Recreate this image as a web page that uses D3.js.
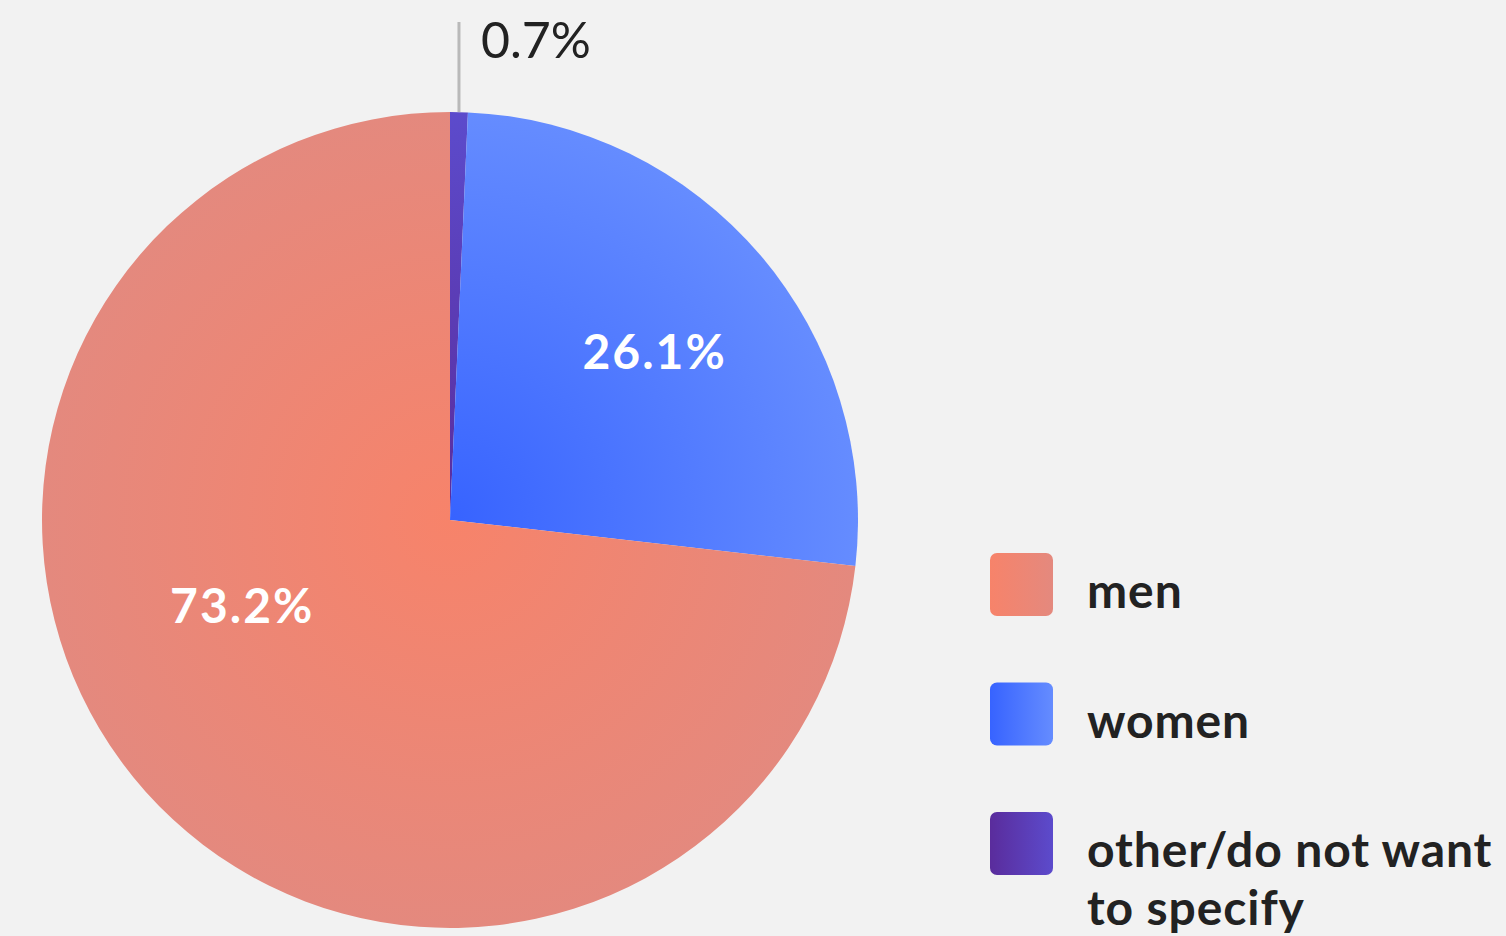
<!DOCTYPE html>
<html>
<head>
<meta charset="utf-8">
<script src="https://cdn.jsdelivr.net/npm/d3@7"></script>
<style>
  html, body { margin: 0; padding: 0; background: #f2f2f2; }
  svg { display: block; }
  text { font-family: Lato, "Open Sans", sans-serif; }
</style>
</head>
<body>
<svg id="chart" width="1506" height="936"></svg>
<script>
// Respondent gender split, drawn clockwise from 12 o'clock
const categories = ["other/do not want to specify", "women", "men"];
const shares = [0.7, 26.1, 73.2];
const valueLabels = ["0.7%", "26.1%", "73.2%"];
const legendOrder = ["men", "women", "other/do not want to specify"];
const legendLines = [["men"], ["women"], ["other/do not want", "to specify"]];

// Colour ramps per slice: [inner/left, outer/right]
const colours = {
  "men": ["#f7836a", "#e4897e"],
  "women": ["#3763ff", "#658cff"],
  "other/do not want to specify": ["#5a2c9c", "#5c4bcc"]
};

const svg = d3.select("#chart");
const cx = 450, cy = 520, R = 408;

const defs = svg.append("defs");
categories.forEach((c, i) => {
  // radial ramp in the pie group's own coordinates (centre at 0,0)
  const rg = defs.append("radialGradient")
    .attr("id", "rg" + i)
    .attr("gradientUnits", "userSpaceOnUse")
    .attr("cx", 0).attr("cy", 0).attr("r", R);
  rg.append("stop").attr("offset", "0%").attr("stop-color", colours[c][0]);
  rg.append("stop").attr("offset", "100%").attr("stop-color", colours[c][1]);
  const lg = defs.append("linearGradient")
    .attr("id", "lg" + i)
    .attr("x1", "0%").attr("x2", "100%").attr("y1", "0%").attr("y2", "0%");
  lg.append("stop").attr("offset", "0%").attr("stop-color", colours[c][0]);
  lg.append("stop").attr("offset", "100%").attr("stop-color", colours[c][1]);
});

const data = categories.map((c, i) => ({ cat: c, value: shares[i], label: valueLabels[i], idx: i }));

const pie = d3.pie().sort(null).value(d => d.value);
const arc = d3.arc().innerRadius(0).outerRadius(R);
const arcs = pie(data);

const g = svg.append("g").attr("transform", `translate(${cx},${cy})`);

g.selectAll("path.slice")
  .data(arcs)
  .join("path")
  .attr("class", "slice")
  .attr("d", arc)
  .attr("fill", d => `url(#rg${d.data.idx})`);

// In-slice labels for the two large slices
const innerLabelRadius = { "women": 0.652, "men": 0.55 };
const innerLabelShift = { "women": 0.014, "men": 0.342 };
arcs.filter(d => d.data.cat !== "other/do not want to specify").forEach(d => {
  const mid = (d.startAngle + d.endAngle) / 2 + innerLabelShift[d.data.cat];
  const r = R * innerLabelRadius[d.data.cat];
  g.append("text")
    .attr("x", r * Math.sin(mid))
    .attr("y", -r * Math.cos(mid))
    .attr("text-anchor", "middle")
    .attr("dominant-baseline", "central")
    .attr("fill", "#ffffff")
    .attr("font-size", 48)
    .attr("font-weight", 700)
    .attr("letter-spacing", 2)
    .text(d.data.label);
});

// Leader line and outside label for the thin slice
const small = arcs[0];
const smallMid = (small.startAngle + small.endAngle) / 2;
const lx = R * Math.sin(smallMid);
g.append("line")
  .attr("x1", lx).attr("x2", lx)
  .attr("y1", -R * Math.cos(smallMid)).attr("y2", -R - 90)
  .attr("stroke", "#b9b9b9")
  .attr("stroke-width", 3);
g.append("text")
  .attr("x", lx + 22)
  .attr("y", -R - 54)
  .attr("fill", "#222")
  .attr("font-size", 50)
  .text(small.data.label);

// Legend
const legend = svg.append("g").attr("transform", "translate(990,553)");
const ly = d3.scalePoint().domain(legendOrder).range([0, 259]);
legendOrder.forEach((c, i) => {
  const row = legend.append("g").attr("transform", `translate(0,${ly(c)})`);
  row.append("rect")
    .attr("width", 63).attr("height", 63).attr("rx", 7)
    .attr("fill", `url(#lg${categories.indexOf(c)})`);
  legendLines[i].forEach((t, j) => {
    row.append("text")
      .attr("x", 97)
      .attr("y", 55 + j * 58)
      .attr("fill", "#222")
      .attr("font-size", 48)
      .attr("font-weight", 700)
      .attr("letter-spacing", 0.9)
      .text(t);
  });
});
</script>
</body>
</html>
